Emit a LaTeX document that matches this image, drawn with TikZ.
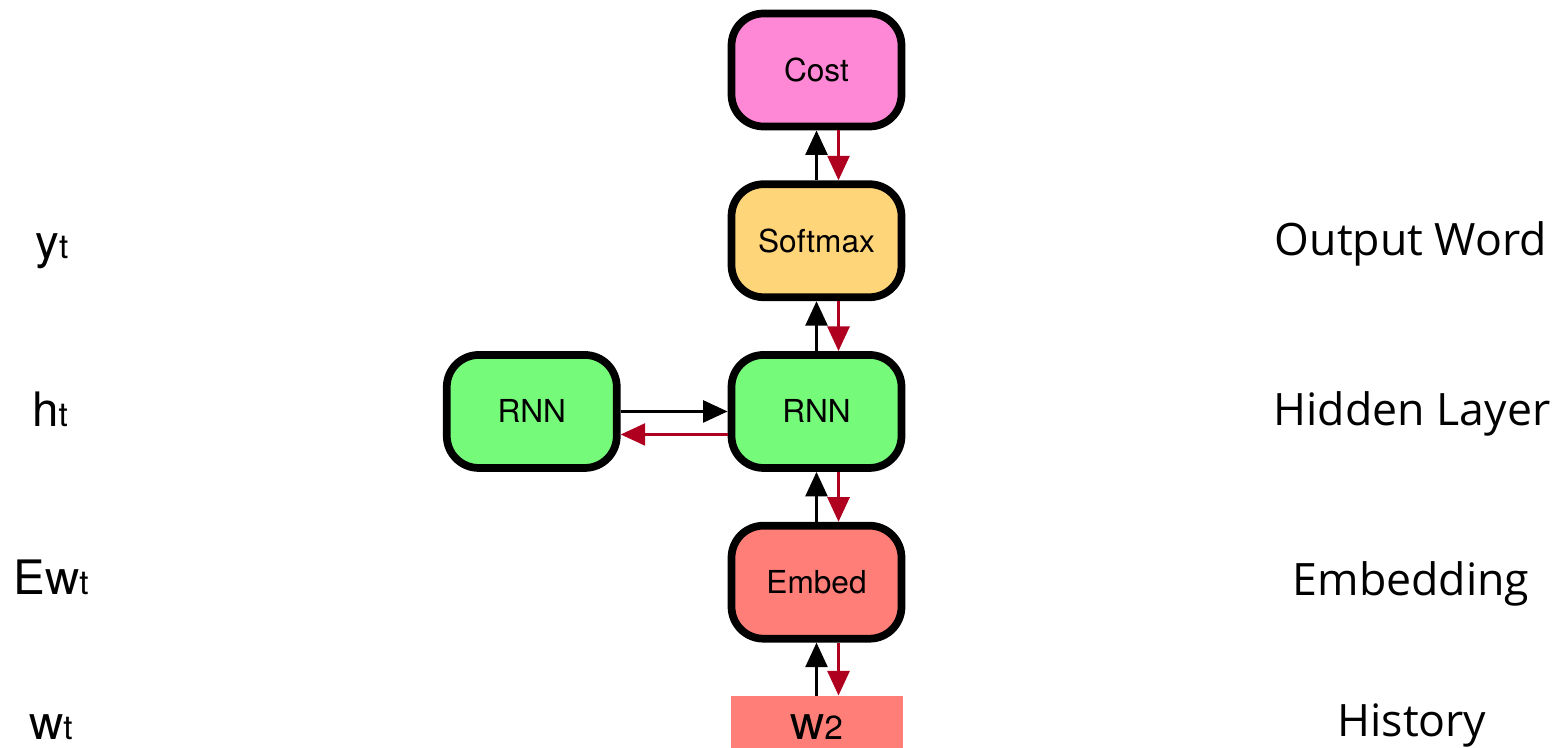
\documentclass[tikz,border=0pt]{standalone}
\usepackage{fontspec}
\setmainfont{TeX Gyre Heros}
\newfontfamily\layerfont{Open Sans}
\usetikzlibrary{arrows.meta,positioning}
\definecolor{costpink}{HTML}{FF88D6}
\definecolor{softorange}{HTML}{FFD57A}
\definecolor{rnngreen}{HTML}{76FA7A}
\definecolor{embedred}{HTML}{FF7F78}
\definecolor{gradred}{HTML}{B00020}
\tikzstyle{block}=[rectangle,rounded corners=0.32cm,draw=black,line width=2.2pt,
minimum width=1.70cm,minimum height=1.13cm,inner sep=0pt,font=\fontsize{9}{10}\selectfont]
\tikzstyle{wordbox}=[rectangle,fill=embedred,minimum width=1.72cm,minimum height=0.55cm,
inner sep=0pt,text height=9pt,text depth=0pt,font=\fontsize{13.5}{16}\selectfont]
\tikzstyle{varlabel}=[inner sep=0pt,text height=9pt,text depth=0pt,font=\fontsize{13.5}{16}\selectfont]
\tikzstyle{layerlabel}=[inner sep=0pt,text height=9pt,text depth=0pt,font=\layerfont\fontsize{12.7}{15}\selectfont]
\tikzstyle{fwd}=[->,draw=black,line width=0.95pt]
\tikzstyle{bwd}=[->,draw=gradred,line width=0.95pt]
\newcommand{\lowsub}[1]{{\fontsize{9.5}{10}\selectfont #1}}

\begin{document}
\begin{tikzpicture}[>={Triangle[length=7pt,width=6.2pt]},node distance=0.50cm]
    \useasboundingbox (0,0) rectangle (15.62,-7.48);

    \node[block,fill=costpink] (cost) at (8.165,-0.70) {Cost};
    \node[block,fill=softorange] (softmax) [below=of cost] {Softmax};
    \node[block,fill=rnngreen] (rnn) [below=of softmax] {RNN};
    \node[block,fill=rnngreen] (prev) [left=1.07cm of rnn] {RNN};
    \node[block,fill=embedred] (embed) [below=of rnn] {Embed};
    \node[wordbox] (word) [below=0.53cm of embed] {w\lowsub{2}};

    % variables on the left
    \node[varlabel] (yt) at (0.52,-2.43) {y\lowsub{t}};
    \node[varlabel] (ht) at (0.50,-4.11) {h\lowsub{t}};
    \node[varlabel] (ewt) at (0.51,-5.79) {Ew\lowsub{t}};
    \node[varlabel] (wt) at (0.51,-7.24) {w\lowsub{t}};

    % layer names on the right
    \node[layerlabel] (outword) at (14.11,-2.40) {Output Word};
    \node[layerlabel] (hidden) at (14.12,-4.10) {Hidden Layer};
    \node[layerlabel] (embedding) at (14.11,-5.80) {Embedding};
    \node[layerlabel] (history) at (14.12,-7.21) {History};

    \draw[fwd] (word) -- (embed);
    \draw[fwd] (embed) -- (rnn);
    \draw[fwd] (rnn) -- (softmax);
    \draw[fwd] (softmax) -- (cost);
    \draw[fwd] (prev) -- (rnn);

    \draw[bwd] ([xshift=0.22cm]cost.south) -- ([xshift=0.22cm]softmax.north);
    \draw[bwd] ([xshift=0.22cm]softmax.south) -- ([xshift=0.22cm]rnn.north);
    \draw[bwd] ([xshift=0.22cm]rnn.south) -- ([xshift=0.22cm]embed.north);
    \draw[bwd] ([xshift=0.22cm]embed.south) -- ([xshift=0.22cm]word.north);
    \draw[bwd] ([yshift=-0.23cm]rnn.west) -- ([yshift=-0.23cm]prev.east);
\end{tikzpicture}
\end{document}
